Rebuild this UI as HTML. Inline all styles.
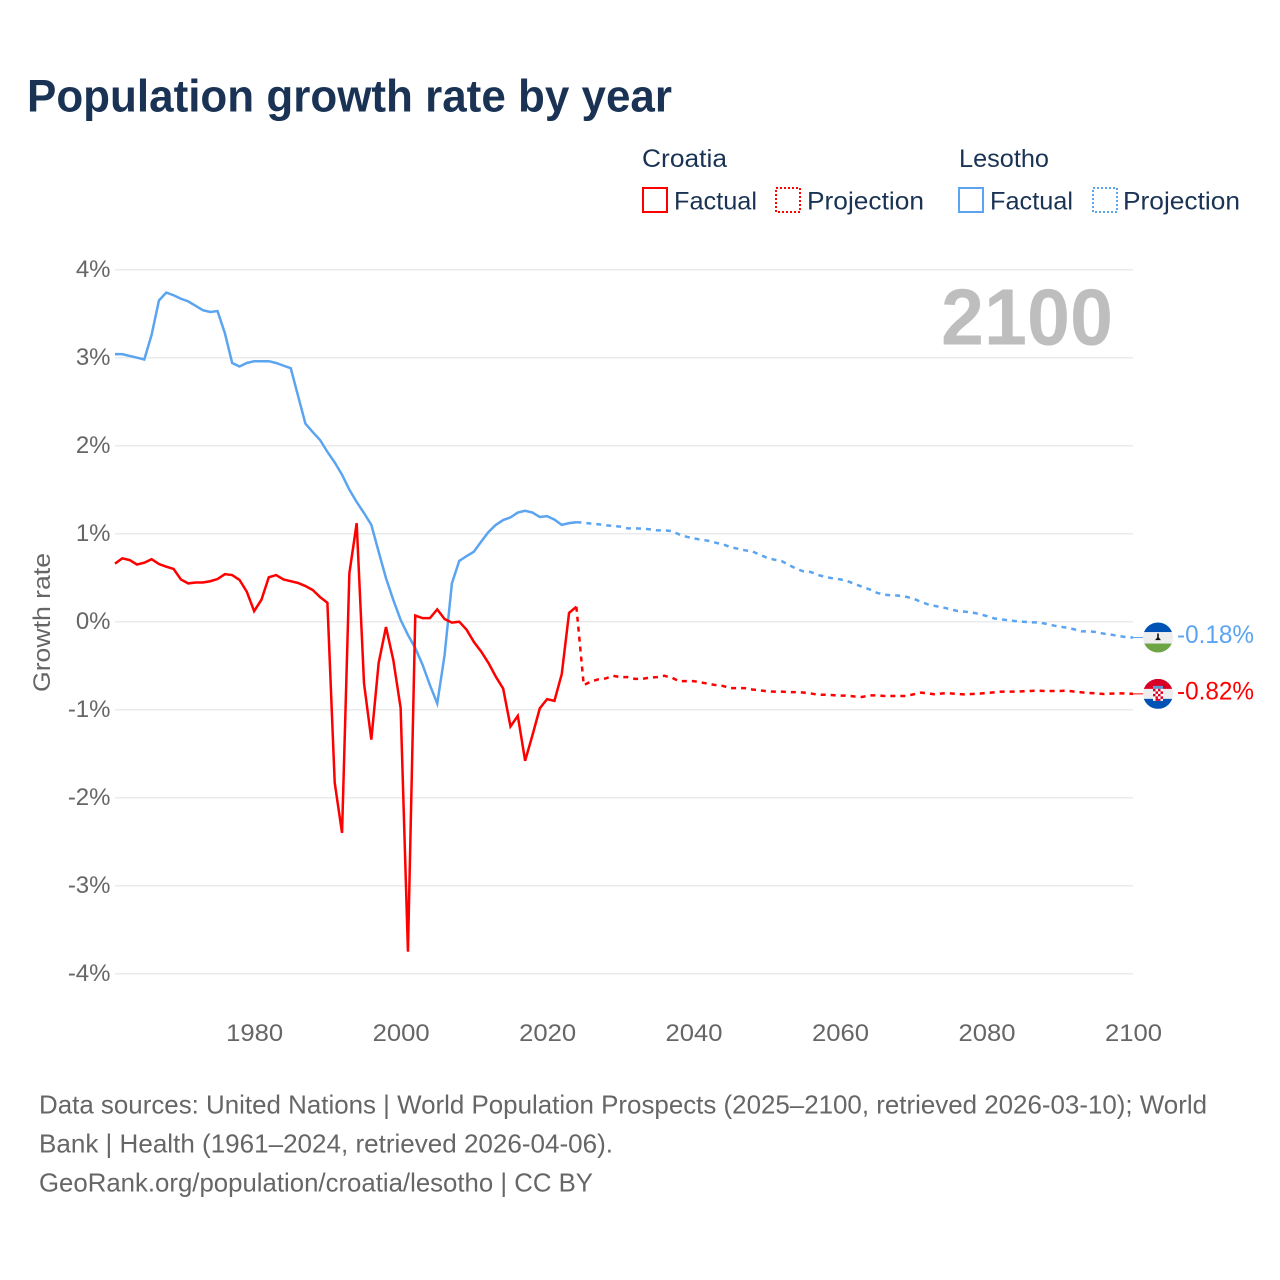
<!DOCTYPE html>
<html lang="en">
<head>
<meta charset="utf-8">
<title>Population growth rate by year</title>
<style>
html,body{margin:0;padding:0;background:#fff;}
svg{display:block;}
text{font-family:"Liberation Sans",sans-serif;}
</style>
</head>
<body>
<svg id="chart" xmlns="http://www.w3.org/2000/svg" width="1280" height="1280" viewBox="0 0 1280 1280">
  <rect x="0" y="0" width="1280" height="1280" fill="#ffffff"/>
  <text x="27" y="111.5" font-size="45" font-weight="700" fill="#1a3354" textLength="645" lengthAdjust="spacingAndGlyphs">Population growth rate by year</text>

  <g font-size="25" fill="#1a3354">
    <text x="642" y="167" textLength="85" lengthAdjust="spacingAndGlyphs">Croatia</text>
    <rect x="643" y="188" width="24" height="24" fill="none" stroke="#ff0000" stroke-width="2"/>
    <text x="674" y="209.5" textLength="83" lengthAdjust="spacingAndGlyphs">Factual</text>
    <rect x="776" y="188" width="24" height="24" fill="none" stroke="#ff0000" stroke-width="2" stroke-dasharray="2 2"/>
    <text x="807" y="209.5" textLength="117" lengthAdjust="spacingAndGlyphs">Projection</text>
    <text x="959" y="167" textLength="90" lengthAdjust="spacingAndGlyphs">Lesotho</text>
    <rect x="959" y="188" width="24" height="24" fill="none" stroke="#5ba4ef" stroke-width="2"/>
    <text x="990" y="209.5" textLength="83" lengthAdjust="spacingAndGlyphs">Factual</text>
    <rect x="1093" y="188" width="24" height="24" fill="none" stroke="#5ba4ef" stroke-width="2" stroke-dasharray="2 2"/>
    <text x="1123" y="209.5" textLength="117" lengthAdjust="spacingAndGlyphs">Projection</text>
  </g>

  <g id="grid"></g>
  <g id="yticks" font-size="24" fill="#666666" text-anchor="end"></g>
  <g id="xticks" font-size="24" fill="#666666" text-anchor="middle"></g>
  <text transform="translate(50,692) rotate(-90)" font-size="24" fill="#666666" textLength="139" lengthAdjust="spacingAndGlyphs">Growth rate</text>
  <text x="1113" y="344.5" text-anchor="end" font-size="80" font-weight="700" fill="#bebebe" textLength="172" lengthAdjust="spacingAndGlyphs">2100</text>

  <g id="series"></g>

  <defs>
    <clipPath id="flag-clip"><circle cx="0" cy="0" r="15"/></clipPath>
  </defs>
  <g id="flag-lesotho">
    <g clip-path="url(#flag-clip)">
      <rect x="-15" y="-15" width="30" height="30" fill="#eeeeee"/>
      <rect x="-15" y="-15" width="30" height="9.5" fill="#0052b4"/>
      <rect x="-15" y="6" width="30" height="9" fill="#6da544"/>
      <path d="M-0.8,-4 L0.8,-4 L0.8,0 L3,2.6 L-3,2.6 L-0.8,0 Z" fill="#111111"/>
    </g>
  </g>
  <g id="flag-croatia">
    <g clip-path="url(#flag-clip)">
      <rect x="-15" y="-15" width="30" height="30" fill="#eeeeee"/>
      <rect x="-15" y="-15" width="30" height="10" fill="#d80027"/>
      <rect x="-15" y="5" width="30" height="10" fill="#0052b4"/>
      <rect x="-5" y="-8" width="10" height="3" fill="#5b9bd5"/>
      <rect x="-5" y="-5" width="10" height="12" fill="#ffffff"/>
      <g fill="#d80027">
        <rect x="-5" y="-5" width="2.5" height="2.5"/><rect x="0" y="-5" width="2.5" height="2.5"/>
        <rect x="-2.5" y="-2.5" width="2.5" height="2.5"/><rect x="2.5" y="-2.5" width="2.5" height="2.5"/>
        <rect x="-5" y="0" width="2.5" height="2.5"/><rect x="0" y="0" width="2.5" height="2.5"/>
        <rect x="-2.5" y="2.5" width="2.5" height="2.5"/><rect x="2.5" y="2.5" width="2.5" height="2.5"/>
        <rect x="-2.5" y="5" width="5" height="2"/>
      </g>
    </g>
  </g>
  <g id="end-labels" font-size="25"></g>

  <g font-size="26" fill="#666666">
    <text x="39" y="1113.5" textLength="1168" lengthAdjust="spacingAndGlyphs">Data sources: United Nations | World Population Prospects (2025–2100, retrieved 2026-03-10); World</text>
    <text x="39" y="1152.5" textLength="574" lengthAdjust="spacingAndGlyphs">Bank | Health (1961–2024, retrieved 2026-04-06).</text>
    <text x="39" y="1191.5" textLength="554" lengthAdjust="spacingAndGlyphs">GeoRank.org/population/croatia/lesotho | CC BY</text>
  </g>
</svg>
<script>
var firstYear = 1961;
var projectionStartYear = 2024;
var yTickValues = [4, 3, 2, 1, 0, -1, -2, -3, -4];
var yTickLabels = ["4%", "3%", "2%", "1%", "0%", "-1%", "-2%", "-3%", "-4%"];
var xTickValues = [1980, 2000, 2020, 2040, 2060, 2080, 2100];
var xTickLabels = ["1980", "2000", "2020", "2040", "2060", "2080", "2100"];

var croatiaFactual = [0.66,0.72,0.70,0.65,0.67,0.71,0.655,0.625,0.60,0.48,0.435,0.445,0.445,0.46,0.485,0.54,0.53,0.475,0.34,0.12,0.25,0.505,0.53,0.48,0.46,0.44,0.405,0.36,0.28,0.215,-1.83,-2.40,0.55,1.12,-0.70,-1.34,-0.47,-0.06,-0.435,-0.98,-3.75,0.07,0.04,0.04,0.14,0.03,-0.01,0.0,-0.09,-0.23,-0.34,-0.47,-0.625,-0.76,-1.19,-1.07,-1.58,-1.29,-0.985,-0.88,-0.90,-0.595,0.10,0.17];
var croatiaProjection = [0.17,-0.72,-0.68,-0.655,-0.645,-0.615,-0.63,-0.63,-0.65,-0.65,-0.635,-0.63,-0.615,-0.635,-0.675,-0.675,-0.675,-0.69,-0.705,-0.72,-0.73,-0.755,-0.755,-0.755,-0.77,-0.78,-0.79,-0.795,-0.795,-0.80,-0.80,-0.805,-0.815,-0.83,-0.83,-0.835,-0.84,-0.84,-0.85,-0.856,-0.837,-0.837,-0.844,-0.844,-0.844,-0.844,-0.826,-0.806,-0.814,-0.826,-0.814,-0.814,-0.822,-0.826,-0.822,-0.818,-0.81,-0.803,-0.795,-0.795,-0.795,-0.791,-0.787,-0.784,-0.787,-0.787,-0.787,-0.784,-0.795,-0.803,-0.81,-0.814,-0.822,-0.818,-0.814,-0.814,-0.82];

var lesothoFactual = [3.04,3.04,3.02,3.00,2.98,3.26,3.65,3.74,3.71,3.67,3.64,3.59,3.54,3.52,3.53,3.28,2.94,2.90,2.94,2.96,2.96,2.96,2.94,2.91,2.88,2.565,2.25,2.155,2.065,1.93,1.81,1.67,1.50,1.36,1.235,1.10,0.795,0.495,0.247,0.02,-0.15,-0.30,-0.49,-0.72,-0.93,-0.38,0.435,0.69,0.745,0.795,0.91,1.02,1.10,1.155,1.185,1.24,1.26,1.24,1.19,1.20,1.16,1.10,1.12,1.13];
var lesothoProjection = [1.13,1.125,1.114,1.107,1.095,1.088,1.08,1.061,1.061,1.057,1.05,1.038,1.038,1.03,0.993,0.966,0.947,0.932,0.92,0.898,0.879,0.849,0.83,0.811,0.80,0.762,0.728,0.705,0.69,0.645,0.603,0.572,0.565,0.531,0.508,0.493,0.481,0.462,0.428,0.398,0.368,0.33,0.307,0.299,0.296,0.284,0.262,0.228,0.197,0.178,0.163,0.144,0.122,0.114,0.106,0.087,0.065,0.038,0.027,0.015,0.007,0,-0.007,-0.007,-0.022,-0.041,-0.056,-0.068,-0.087,-0.11,-0.11,-0.117,-0.136,-0.147,-0.162,-0.174,-0.18];

var SVG_NS = "http://www.w3.org/2000/svg";
var plotLeft = 115, plotRight = 1133, lastYear = 2100;
var zeroY = 621.7, pixelsPerPercent = 88;

function xScale(year) {
  return plotLeft + (year - firstYear) * (plotRight - plotLeft) / (lastYear - firstYear);
}
function yScale(value) {
  return zeroY - value * pixelsPerPercent;
}
function svgEl(tag, parent) {
  var el = document.createElementNS(SVG_NS, tag);
  parent.appendChild(el);
  return el;
}
function linePoints(values, startYear) {
  return values.map(function (v, i) {
    return xScale(startYear + i).toFixed(2) + "," + yScale(v).toFixed(2);
  }).join(" ");
}

var gridGroup = document.getElementById("grid");
var yTickGroup = document.getElementById("yticks");
yTickValues.forEach(function (v, i) {
  var gl = svgEl("line", gridGroup);
  
  
  gl.setAttribute("x1", plotLeft);
  gl.setAttribute("x2", plotRight);
  gl.setAttribute("y1", yScale(v));
  gl.setAttribute("y2", yScale(v));
  gl.setAttribute("stroke", "#ebebeb");
  gl.setAttribute("stroke-width", "1.5");
  var t = svgEl("text", yTickGroup);
  
  
  t.setAttribute("x", 110.5);
  t.setAttribute("y", yScale(v) + 7.5);
  t.textContent = yTickLabels[i];
});

var xTickGroup = document.getElementById("xticks");
xTickValues.forEach(function (year, i) {
  var t = svgEl("text", xTickGroup);
  
  
  t.setAttribute("x", xScale(year) + 0.5);
  t.setAttribute("y", 1041);
  t.setAttribute("textLength", 57);
  t.setAttribute("lengthAdjust", "spacingAndGlyphs");
  t.textContent = xTickLabels[i];
});

var seriesGroup = document.getElementById("series");

var lesothoFactualLine = svgEl("polyline", seriesGroup);


lesothoFactualLine.setAttribute("points", linePoints(lesothoFactual, firstYear));
lesothoFactualLine.setAttribute("fill", "none");
lesothoFactualLine.setAttribute("stroke", "#5ba4ef");
lesothoFactualLine.setAttribute("stroke-width", "2.5");

var lesothoProjectionLine = svgEl("polyline", seriesGroup);


lesothoProjectionLine.setAttribute("points", linePoints(lesothoProjection, projectionStartYear));
lesothoProjectionLine.setAttribute("fill", "none");
lesothoProjectionLine.setAttribute("stroke", "#5ba4ef");
lesothoProjectionLine.setAttribute("stroke-width", "2.5");
lesothoProjectionLine.setAttribute("stroke-dasharray", "5 5");

var croatiaFactualLine = svgEl("polyline", seriesGroup);


croatiaFactualLine.setAttribute("points", linePoints(croatiaFactual, firstYear));
croatiaFactualLine.setAttribute("fill", "none");
croatiaFactualLine.setAttribute("stroke", "#ff0000");
croatiaFactualLine.setAttribute("stroke-width", "2.5");

var croatiaProjectionLine = svgEl("polyline", seriesGroup);


croatiaProjectionLine.setAttribute("points", linePoints(croatiaProjection, projectionStartYear));
croatiaProjectionLine.setAttribute("fill", "none");
croatiaProjectionLine.setAttribute("stroke", "#ff0000");
croatiaProjectionLine.setAttribute("stroke-width", "2.5");
croatiaProjectionLine.setAttribute("stroke-dasharray", "5 5");

var flagCenterX = 1158;
var flagLabelX = 1177;
var endLabelGroup = document.getElementById("end-labels");

var lesothoEnd = lesothoProjection[lesothoProjection.length - 1];
var lesothoConnector = svgEl("line", seriesGroup);


lesothoConnector.setAttribute("x1", plotRight);
lesothoConnector.setAttribute("x2", flagCenterX - 15);
lesothoConnector.setAttribute("y1", yScale(lesothoEnd));
lesothoConnector.setAttribute("y2", yScale(lesothoEnd));
lesothoConnector.setAttribute("stroke", "#5ba4ef");
lesothoConnector.setAttribute("stroke-width", "1");
document.getElementById("flag-lesotho").setAttribute("transform", "translate(" + flagCenterX + "," + yScale(lesothoEnd) + ")");
var lesothoLabel = svgEl("text", endLabelGroup);


lesothoLabel.setAttribute("x", flagLabelX);
lesothoLabel.setAttribute("y", yScale(lesothoEnd) + 5.5);
lesothoLabel.setAttribute("fill", "#5ba4ef");
lesothoLabel.setAttribute("textLength", 77);
lesothoLabel.setAttribute("lengthAdjust", "spacingAndGlyphs");
lesothoLabel.textContent = lesothoEnd.toFixed(2) + "%";

var croatiaEnd = croatiaProjection[croatiaProjection.length - 1];
var croatiaConnector = svgEl("line", seriesGroup);


croatiaConnector.setAttribute("x1", plotRight);
croatiaConnector.setAttribute("x2", flagCenterX - 15);
croatiaConnector.setAttribute("y1", yScale(croatiaEnd));
croatiaConnector.setAttribute("y2", yScale(croatiaEnd));
croatiaConnector.setAttribute("stroke", "#ff0000");
croatiaConnector.setAttribute("stroke-width", "1");
document.getElementById("flag-croatia").setAttribute("transform", "translate(" + flagCenterX + "," + yScale(croatiaEnd) + ")");
var croatiaLabel = svgEl("text", endLabelGroup);


croatiaLabel.setAttribute("x", flagLabelX);
croatiaLabel.setAttribute("y", yScale(croatiaEnd) + 5.5);
croatiaLabel.setAttribute("fill", "#ff0000");
croatiaLabel.setAttribute("textLength", 77);
croatiaLabel.setAttribute("lengthAdjust", "spacingAndGlyphs");
croatiaLabel.textContent = croatiaEnd.toFixed(2) + "%";
</script>
</body>
</html>
